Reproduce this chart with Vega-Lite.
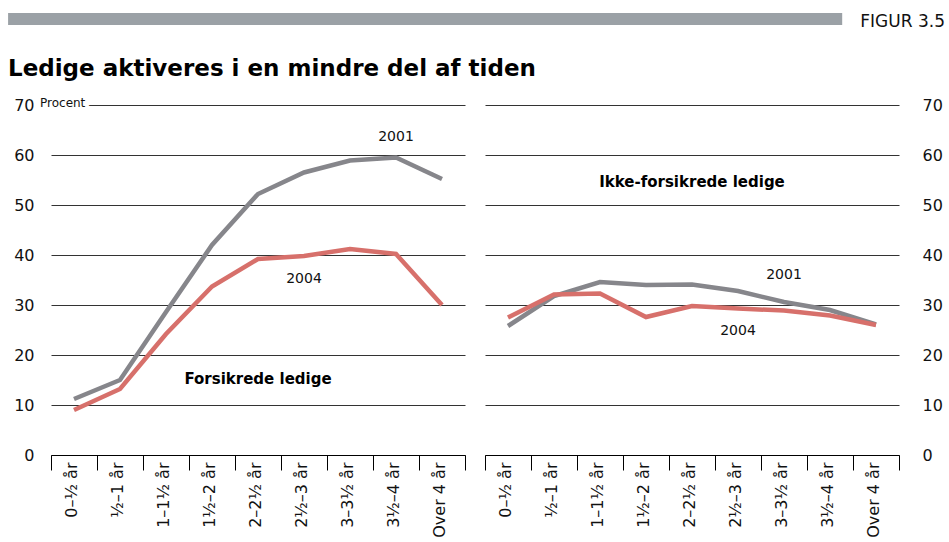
{
  "$schema": "https://vega.github.io/schema/vega-lite/v6.json",
  "padding": {"left": 8, "top": 13, "right": 4, "bottom": 0},
  "background": "white",
  "datasets": {
    "lines": [
      {"panel": "F", "year": "2001", "category": "0–½ år", "value": 11.2},
      {"panel": "F", "year": "2001", "category": "½–1 år", "value": 15.0},
      {"panel": "F", "year": "2001", "category": "1–1½ år", "value": 28.6},
      {"panel": "F", "year": "2001", "category": "1½–2 år", "value": 42.0},
      {"panel": "F", "year": "2001", "category": "2–2½ år", "value": 52.2},
      {"panel": "F", "year": "2001", "category": "2½–3 år", "value": 56.5},
      {"panel": "F", "year": "2001", "category": "3–3½ år", "value": 58.9},
      {"panel": "F", "year": "2001", "category": "3½–4 år", "value": 59.5},
      {"panel": "F", "year": "2001", "category": "Over 4 år", "value": 55.2},
      {"panel": "F", "year": "2004", "category": "0–½ år", "value": 9.0},
      {"panel": "F", "year": "2004", "category": "½–1 år", "value": 13.2},
      {"panel": "F", "year": "2004", "category": "1–1½ år", "value": 24.2},
      {"panel": "F", "year": "2004", "category": "1½–2 år", "value": 33.7},
      {"panel": "F", "year": "2004", "category": "2–2½ år", "value": 39.2},
      {"panel": "F", "year": "2004", "category": "2½–3 år", "value": 39.8},
      {"panel": "F", "year": "2004", "category": "3–3½ år", "value": 41.2},
      {"panel": "F", "year": "2004", "category": "3½–4 år", "value": 40.2},
      {"panel": "F", "year": "2004", "category": "Over 4 år", "value": 30.0},
      {"panel": "I", "year": "2001", "category": "0–½ år", "value": 25.8},
      {"panel": "I", "year": "2001", "category": "½–1 år", "value": 31.8},
      {"panel": "I", "year": "2001", "category": "1–1½ år", "value": 34.6},
      {"panel": "I", "year": "2001", "category": "1½–2 år", "value": 34.0},
      {"panel": "I", "year": "2001", "category": "2–2½ år", "value": 34.1},
      {"panel": "I", "year": "2001", "category": "2½–3 år", "value": 32.8},
      {"panel": "I", "year": "2001", "category": "3–3½ år", "value": 30.6},
      {"panel": "I", "year": "2001", "category": "3½–4 år", "value": 29.0},
      {"panel": "I", "year": "2001", "category": "Over 4 år", "value": 26.1},
      {"panel": "I", "year": "2004", "category": "0–½ år", "value": 27.5},
      {"panel": "I", "year": "2004", "category": "½–1 år", "value": 32.1},
      {"panel": "I", "year": "2004", "category": "1–1½ år", "value": 32.3},
      {"panel": "I", "year": "2004", "category": "1½–2 år", "value": 27.6},
      {"panel": "I", "year": "2004", "category": "2–2½ år", "value": 29.8},
      {"panel": "I", "year": "2004", "category": "2½–3 år", "value": 29.3},
      {"panel": "I", "year": "2004", "category": "3–3½ år", "value": 28.9},
      {"panel": "I", "year": "2004", "category": "3½–4 år", "value": 27.9},
      {"panel": "I", "year": "2004", "category": "Over 4 år", "value": 26.0}
    ],
    "notes": [
      {"panel": "F", "type": "year", "category": "3½–4 år", "value": 63.6, "label": "2001"},
      {"panel": "F", "type": "year", "category": "2½–3 år", "value": 35.3, "label": "2004"},
      {"panel": "F", "type": "group", "category": "2–2½ år", "value": 15.3, "label": "Forsikrede ledige"},
      {"panel": "F", "type": "unit", "category": "0–½ år", "value": 70, "label": "Procent"},
      {"panel": "I", "type": "year", "category": "3–3½ år", "value": 36.1, "label": "2001"},
      {"panel": "I", "type": "year", "category": "2½–3 år", "value": 24.8, "label": "2004"},
      {"panel": "I", "type": "group", "category": "2–2½ år", "value": 54.7, "label": "Ikke-forsikrede ledige"}
    ],
    "header": [{"label": "FIGUR 3.5"}]
  },
  "config": {
    "font": "DejaVu Sans",
    "view": {"stroke": null},
    "axis": {"labelFont": "DejaVu Sans", "labelFontSize": 16, "labelColor": "#111"},
    "axisX": {"labelAngle": -90, "tickBand": "extent", "tickSize": 15, "tickColor": "#000", "tickWidth": 1, "domainColor": "#000", "domainWidth": 1.2, "labelPadding": -8, "labelOffset": -3, "grid": false},
    "axisY": {"ticks": false, "domain": false, "grid": true, "gridColor": "#333", "gridWidth": 1}
  },
  "spacing": 28,
  "columns": 1,
  "align": "none",
  "concat": [
    {
      "width": 894,
      "height": 12,
      "data": {"name": "header"},
      "layer": [
        {
          "mark": {"type": "rect", "color": "#9ba1a6", "clip": false},
          "encoding": {
            "x": {"datum": -4.8, "type": "quantitative", "scale": {"domain": [0, 100], "nice": false, "zero": false}, "axis": null},
            "x2": {"datum": 88.5}
          }
        },
        {
          "mark": {"type": "text", "align": "right", "baseline": "middle", "fontSize": 17, "dy": 3, "color": "#111"},
          "encoding": {
            "x": {"datum": 100, "type": "quantitative"},
            "text": {"field": "label"}
          }
        }
      ]
    },
    {
      "title": {"text": "Ledige aktiveres i en mindre del af tiden", "anchor": "start", "fontSize": 23, "fontWeight": "bold", "font": "DejaVu Sans", "color": "#000", "offset": 16},
      "spacing": 11,
      "hconcat": [
        {
          "width": 414,
          "height": 350,
          "layer": [
            {
              "data": {"name": "lines"},
              "transform": [{"filter": "datum.panel === 'F'"}],
              "mark": {"type": "line", "strokeWidth": 4.5, "strokeJoin": "miter", "strokeCap": "butt"},
              "encoding": {
                "x": {"field": "category", "type": "nominal", "sort": null, "scale": {"type": "band", "domain": ["0–½ år", "½–1 år", "1–1½ år", "1½–2 år", "2–2½ år", "2½–3 år", "3–3½ år", "3½–4 år", "Over 4 år"], "paddingInner": 0, "paddingOuter": 0}, "axis": {"title": null}},
                "y": {"field": "value", "type": "quantitative", "scale": {"domain": [0, 70], "nice": false}, "axis": {"title": null, "orient": "left", "values": [0, 10, 20, 30, 40, 50, 60, 70], "labelPadding": 17, "minExtent": 43}},
                "color": {"field": "year", "type": "nominal", "scale": {"domain": ["2001", "2004"], "range": ["#86868b", "#d7706b"]}, "legend": null}
              }
            },
            {
              "data": {"name": "notes"},
              "transform": [{"filter": "datum.panel === 'F' && datum.type === 'year'"}],
              "mark": {"type": "text", "fontSize": 14, "color": "#111"},
              "encoding": {
                "x": {"field": "category", "type": "nominal"},
                "y": {"field": "value", "type": "quantitative"},
                "text": {"field": "label"}
              }
            },
            {
              "data": {"name": "notes"},
              "transform": [{"filter": "datum.panel === 'F' && datum.type === 'group'"}],
              "mark": {"type": "text", "fontSize": 15, "fontWeight": "bold", "color": "#000"},
              "encoding": {
                "x": {"field": "category", "type": "nominal"},
                "y": {"field": "value", "type": "quantitative"},
                "text": {"field": "label"}
              }
            },
            {
              "data": {"name": "notes"},
              "transform": [{"filter": "datum.panel === 'F' && datum.type === 'unit'"}],
              "mark": {"type": "text", "fontSize": 12, "align": "left", "dx": -11, "dy": -2, "color": "white", "stroke": "white", "strokeWidth": 8},
              "encoding": {
                "x": {"field": "category", "type": "nominal", "bandPosition": 0},
                "y": {"field": "value", "type": "quantitative"},
                "text": {"field": "label"}
              }
            },
            {
              "data": {"name": "notes"},
              "transform": [{"filter": "datum.panel === 'F' && datum.type === 'unit'"}],
              "mark": {"type": "text", "fontSize": 12, "align": "left", "dx": -11, "dy": -2, "color": "#111"},
              "encoding": {
                "x": {"field": "category", "type": "nominal", "bandPosition": 0},
                "y": {"field": "value", "type": "quantitative"},
                "text": {"field": "label"}
              }
            }
          ]
        },
        {
          "width": 414,
          "height": 350,
          "layer": [
            {
              "data": {"name": "lines"},
              "transform": [{"filter": "datum.panel === 'I'"}],
              "mark": {"type": "line", "strokeWidth": 4.5, "strokeJoin": "miter", "strokeCap": "butt"},
              "encoding": {
                "x": {"field": "category", "type": "nominal", "sort": null, "scale": {"type": "band", "domain": ["0–½ år", "½–1 år", "1–1½ år", "1½–2 år", "2–2½ år", "2½–3 år", "3–3½ år", "3½–4 år", "Over 4 år"], "paddingInner": 0, "paddingOuter": 0}, "axis": {"title": null}},
                "y": {"field": "value", "type": "quantitative", "scale": {"domain": [0, 70], "nice": false}, "axis": {"title": null, "orient": "right", "values": [0, 10, 20, 30, 40, 50, 60, 70], "labelPadding": 23}},
                "color": {"field": "year", "type": "nominal", "scale": {"domain": ["2001", "2004"], "range": ["#86868b", "#d7706b"]}, "legend": null}
              }
            },
            {
              "data": {"name": "notes"},
              "transform": [{"filter": "datum.panel === 'I' && datum.type === 'year'"}],
              "mark": {"type": "text", "fontSize": 14, "color": "#111"},
              "encoding": {
                "x": {"field": "category", "type": "nominal"},
                "y": {"field": "value", "type": "quantitative"},
                "text": {"field": "label"}
              }
            },
            {
              "data": {"name": "notes"},
              "transform": [{"filter": "datum.panel === 'I' && datum.type === 'group'"}],
              "mark": {"type": "text", "fontSize": 15, "fontWeight": "bold", "color": "#000"},
              "encoding": {
                "x": {"field": "category", "type": "nominal"},
                "y": {"field": "value", "type": "quantitative"},
                "text": {"field": "label"}
              }
            }
          ]
        }
      ]
    }
  ]
}
